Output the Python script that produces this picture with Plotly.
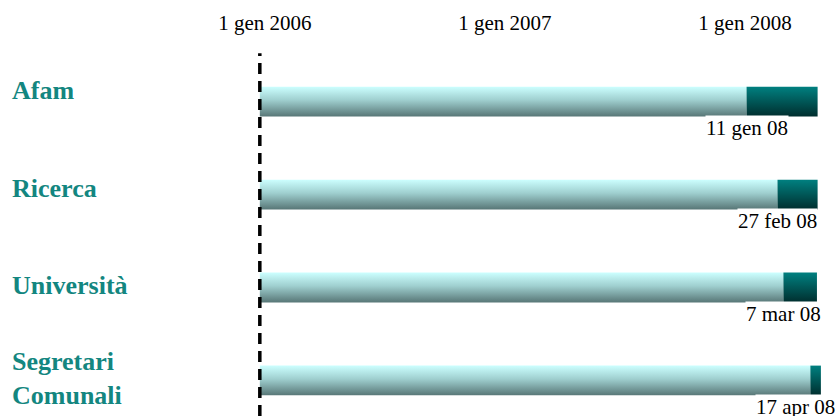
import pandas as pd
import plotly.graph_objects as go

# --- data -------------------------------------------------------------
categories = ["Afam", "Ricerca", "Università", "Segretari<br>Comunali"]
start_dates = ["2006-01-01", "2006-01-01", "2006-01-01", "2006-01-01"]
milestone_dates = ["2008-01-11", "2008-02-27", "2008-03-07", "2008-04-17"]
end_dates = ["2008-04-28", "2008-04-28", "2008-04-27", "2008-05-03"]

tick_dates = ["2006-01-01", "2007-01-01", "2008-01-01"]
tick_text = ["1 gen 2006", "1 gen 2007", "1 gen 2008"]

MESI = ["gen", "feb", "mar", "apr", "mag", "giu",
        "lug", "ago", "set", "ott", "nov", "dic"]


def label_for(date_str):
    d = pd.Timestamp(date_str)
    return f"{d.day} {MESI[d.month - 1]} {d:%y}"


# --- styling ----------------------------------------------------------
SERIF = "Liberation Serif, Times New Roman, serif"
TEAL_TEXT = "#138680"
LIGHT_SCALE = [[0, "#587777"], [0.55, "#9fcfcf"], [1, "#ccffff"]]
DARK_SCALE = [[0, "#002e2e"], [1, "#008080"]]
HALF = 0.16          # half bar thickness in row units
X_RANGE = ["2004-12-02", "2008-05-29"]
Y_RANGE = [-0.382, 3.608]

fig = go.Figure()
n = len(categories)

for i, cat in enumerate(categories):
    yc = n - 1 - i
    y0, y1 = yc - HALF, yc + HALF
    segments = [
        (start_dates[i], milestone_dates[i], LIGHT_SCALE),
        (milestone_dates[i], end_dates[i], DARK_SCALE),
    ]
    for xa, xb, scale in segments:
        fig.add_trace(go.Scatter(
            x=[xa, xb, xb, xa, xa],
            y=[y0, y0, y1, y1, y0],
            mode="lines",
            line=dict(width=0),
            fill="toself",
            fillgradient=dict(type="vertical", colorscale=scale,
                              start=y0, stop=y1),
            hoverinfo="skip",
            showlegend=False,
        ))

    # category name on the left
    label_shift = [11, 6, 2, 2][i]
    fig.add_annotation(
        xref="paper", x=10 / 838, xanchor="left",
        yref="y", y=yc, yanchor="middle", yshift=label_shift,
        text=f"<b>{cat}</b>", showarrow=False, align="left",
        font=dict(family=SERIF, size=26, color=TEAL_TEXT),
    )

    # milestone date under the bar end
    ms = pd.Timestamp(milestone_dates[i])
    near_edge = (pd.Timestamp(X_RANGE[1]) - ms).days < 60
    ann = dict(
        yref="y", y=y0, yanchor="top", yshift=1,
        text=label_for(milestone_dates[i]), showarrow=False,
        font=dict(family=SERIF, size=21, color="black"),
        bgcolor="white", borderpad=0,
    )
    if near_edge:
        ann.update(xref="paper", x=1, xanchor="right", xshift=-2)
    else:
        ann.update(xref="x", x=milestone_dates[i], xanchor="center")
    fig.add_annotation(**ann)

# dashed reference line at the common start date
fig.add_shape(
    type="line", xref="x", x0=start_dates[0], x1=start_dates[0],
    yref="paper", y0=0, y1=0.978,
    line=dict(color="black", width=3.5, dash="11px,7px"),
    layer="above",
)

fig.update_layout(
    width=838, height=416,
    margin=dict(l=0, r=0, t=45, b=0),
    paper_bgcolor="white", plot_bgcolor="white",
    xaxis=dict(
        type="date", range=X_RANGE, side="top",
        tickvals=tick_dates, ticktext=tick_text,
        tickfont=dict(family=SERIF, size=21, color="black"),
        ticklabelshift=5, ticklabelstandoff=10,
        showgrid=False, zeroline=False, showline=False, ticks="",
    ),
    yaxis=dict(
        range=Y_RANGE, visible=False, showgrid=False, zeroline=False,
    ),
    showlegend=False,
)

fig.write_html("out.html")
